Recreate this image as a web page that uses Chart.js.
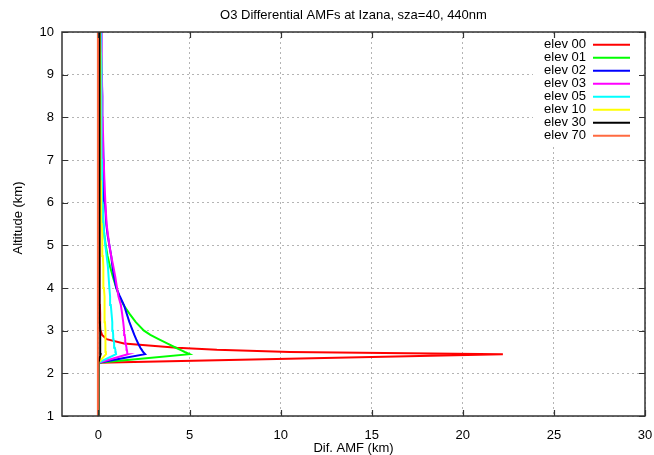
<!DOCTYPE html>
<html>
<head>
<meta charset="utf-8">
<script src="https://cdn.jsdelivr.net/npm/chart.js@4/dist/chart.umd.min.js"></script>
<style>
  html, body { margin: 0; padding: 0; background: #fff; }
  #wrap { width: 654px; height: 455px; }
</style>
</head>
<body>
<div id="wrap"><canvas id="amf"></canvas></div>
<script>
// O3 differential AMF profiles, Izana, sza=40, 440nm
const chartTitle = 'O3 Differential AMFs at Izana, sza=40, 440nm';
const xTitle = 'Dif. AMF (km)';
const yTitle = 'Altitude (km)';

const xTickValues = [0, 5, 10, 15, 20, 25, 30];
const yTickValues = [1, 2, 3, 4, 5, 6, 7, 8, 9, 10];

// altitude levels (km)
const altitudes = [1.0, 2.25, 2.45, 2.5, 2.55, 2.6, 2.7, 2.8, 2.9, 3.0,
  3.2, 3.4, 3.6, 3.8, 4.0, 4.25, 4.5, 4.75, 5.0, 5.25,
  5.5, 6.0, 6.5, 7.0, 7.5, 8.0, 8.5, 9.0, 9.5, 10.0];

const seriesLabels = ['elev 00', 'elev 01', 'elev 02', 'elev 03', 'elev 05', 'elev 10', 'elev 30', 'elev 70'];
const seriesColors = ['#ff0000', '#00ff00', '#0000ff', '#ff00ff', '#00ffff', '#ffff00', '#000000', '#ff6a40'];

const elev00 = [0, 0, 22.2, 10.5, 6.5, 4.3, 1.4, 0.45, 0.2, 0.12,
  0.1, 0.09, 0.08, 0.07, 0.06, 0.06, 0.05, 0.05, 0.05, 0.04,
  0.04, 0.04, 0.03, 0.03, 0.03, 0.02, 0.02, 0.02, 0.01, 0.01];
const elev01 = [0, 0, 5.0, 4.74, 4.5, 4.25, 3.77, 3.3, 2.85, 2.5,
  2.05, 1.7, 1.38, 1.15, 0.98, 0.8, 0.64, 0.5, 0.4, 0.32,
  0.27, 0.23, 0.21, 0.19, 0.18, 0.17, 0.16, 0.15, 0.14, 0.13];
const elev02 = [0, 0, 2.56, 2.45, 2.38, 2.3, 2.18, 2.07, 1.97, 1.88,
  1.7, 1.55, 1.4, 1.18, 0.98, 0.86, 0.77, 0.7, 0.6, 0.5,
  0.43, 0.36, 0.31, 0.28, 0.25, 0.22, 0.2, 0.18, 0.17, 0.15];
const elev03 = [0, 0, 1.61, 1.58, 1.56, 1.54, 1.5, 1.47, 1.44, 1.41,
  1.36, 1.3, 1.23, 1.1, 1.02, 0.93, 0.82, 0.7, 0.6, 0.52,
  0.45, 0.38, 0.33, 0.29, 0.26, 0.23, 0.21, 0.19, 0.17, 0.15];
const elev05 = [0, 0, 0.97, 0.95, 0.93, 0.9, 0.86, 0.83, 0.81, 0.79,
  0.76, 0.72, 0.68, 0.64, 0.6, 0.56, 0.52, 0.45, 0.38, 0.32,
  0.27, 0.23, 0.2, 0.19, 0.18, 0.17, 0.16, 0.15, 0.14, 0.13];
const elev10 = [0, 0, 0.42, 0.41, 0.4, 0.4, 0.39, 0.38, 0.37, 0.37,
  0.36, 0.35, 0.34, 0.32, 0.3, 0.28, 0.26, 0.24, 0.22, 0.2,
  0.18, 0.15, 0.13, 0.12, 0.11, 0.1, 0.1, 0.09, 0.09, 0.08];
const elev30 = [0, 0, 0.12, 0.11, 0.1, 0.1, 0.1, 0.09, 0.09, 0.09,
  0.08, 0.08, 0.08, 0.08, 0.07, 0.07, 0.07, 0.07, 0.06, 0.06,
  0.06, 0.06, 0.05, 0.05, 0.05, 0.05, 0.05, 0.04, 0.04, 0.04];
const elev70 = [-0.03, -0.03, -0.03, -0.03, -0.03, -0.03, -0.03, -0.03, -0.03, -0.03,
  -0.03, -0.03, -0.03, -0.03, -0.03, -0.03, -0.03, -0.03, -0.03, -0.03,
  -0.03, -0.03, -0.03, -0.03, -0.03, -0.03, -0.03, -0.03, -0.03, -0.03];

const seriesValues = [elev00, elev01, elev02, elev03, elev05, elev10, elev30, elev70];

const FONT = "'Liberation Sans', Arial, sans-serif";
const FS = 13;

// gnuplot-like frame: border, inward ticks, key, titles
const gnuplotFrame = {
  id: 'gnuplotFrame',
  beforeDatasetsDraw(chart) {
    const { ctx, chartArea: a } = chart;
    // key box is opaque (hides grid)
    ctx.save();
    ctx.fillStyle = '#fff';
    ctx.fillRect(a.right - 112, a.top + 4, 110, 110);
    ctx.restore();
  },
  afterDraw(chart) {
    const { ctx, chartArea: a, scales } = chart;
    ctx.save();

    // ticks
    ctx.strokeStyle = '#333';
    ctx.lineWidth = 1.2;
    const tl = 6;
    ctx.beginPath();
    xTickValues.forEach(v => {
      const px = Math.round(scales.x.getPixelForValue(v)) + 0.5;
      ctx.moveTo(px, a.bottom); ctx.lineTo(px, a.bottom - tl);
      ctx.moveTo(px, a.top); ctx.lineTo(px, a.top + tl);
    });
    yTickValues.forEach(v => {
      const py = Math.round(scales.y.getPixelForValue(v)) + 0.5;
      ctx.moveTo(a.left, py); ctx.lineTo(a.left + tl, py);
      ctx.moveTo(a.right, py); ctx.lineTo(a.right - tl, py);
    });
    ctx.stroke();

    // border
    ctx.strokeStyle = '#333';
    ctx.lineWidth = 1.5;
    ctx.strokeRect(a.left, a.top, a.right - a.left, a.bottom - a.top);

    // key
    ctx.font = FS + 'px ' + FONT;
    ctx.textAlign = 'right';
    ctx.textBaseline = 'middle';
    chart.data.datasets.forEach((ds, i) => {
      const y = a.top + 12.7 + i * 13;
      ctx.fillStyle = '#000';
      ctx.fillText(ds.label, a.right - 59, y);
      ctx.strokeStyle = ds.borderColor;
      ctx.lineWidth = 2;
      ctx.beginPath();
      ctx.moveTo(a.right - 52, y);
      ctx.lineTo(a.right - 15, y);
      ctx.stroke();
    });

    // titles
    const cx = (a.left + a.right) / 2;
    ctx.fillStyle = '#000';
    ctx.textAlign = 'center';
    ctx.fillText(chartTitle, cx, 15);
    ctx.fillText(xTitle, cx, 448);
    ctx.translate(18, (a.top + a.bottom) / 2 - 6);
    ctx.rotate(-Math.PI / 2);
    ctx.fillText(yTitle, 0, 0);
    ctx.restore();
  }
};

const datasets = seriesLabels.map((label, i) => ({
  label: label,
  data: altitudes.map((alt, k) => ({ x: seriesValues[i][k], y: alt })),
  borderColor: seriesColors[i],
  backgroundColor: seriesColors[i],
  borderWidth: 2,
  showLine: true,
  pointRadius: 0,
  tension: 0,
  order: seriesLabels.length - i,
}));

const gridOpts = {
  color: '#b4b4b4',
  lineWidth: 1,
  drawTicks: false,
};

new Chart(document.getElementById('amf'), {
  type: 'scatter',
  data: { datasets },
  options: {
    responsive: true,
    maintainAspectRatio: false,
    animation: false,
    events: [],
    layout: { padding: { top: 32, right: 9, left: 0, bottom: 0 } },
    plugins: {
      legend: { display: false },
      title: { display: false },
      tooltip: { enabled: false },
    },
    scales: {
      x: {
        type: 'linear',
        min: -2,
        max: 30,
        afterBuildTicks: s => { s.ticks = xTickValues.map(v => ({ value: v })); },
        afterFit: s => { s.height = 39; s.paddingLeft = 0; s.paddingRight = 0; },
        grid: gridOpts,
        border: { display: false, dash: [2, 3] },
        ticks: {
          color: '#000',
          padding: 12,
          maxRotation: 0,
          autoSkip: false,
          font: { family: FONT, size: FS },
        },
      },
      y: {
        type: 'linear',
        min: 1,
        max: 10,
        afterBuildTicks: s => { s.ticks = yTickValues.map(v => ({ value: v })); },
        afterFit: s => { s.width = 62; s.paddingTop = 0; s.paddingBottom = 0; },
        grid: gridOpts,
        border: { display: false, dash: [2, 3] },
        ticks: {
          color: '#000',
          padding: 8,
          autoSkip: false,
          font: { family: FONT, size: FS },
        },
      },
    },
  },
  plugins: [gnuplotFrame],
});
</script>
</body>
</html>
